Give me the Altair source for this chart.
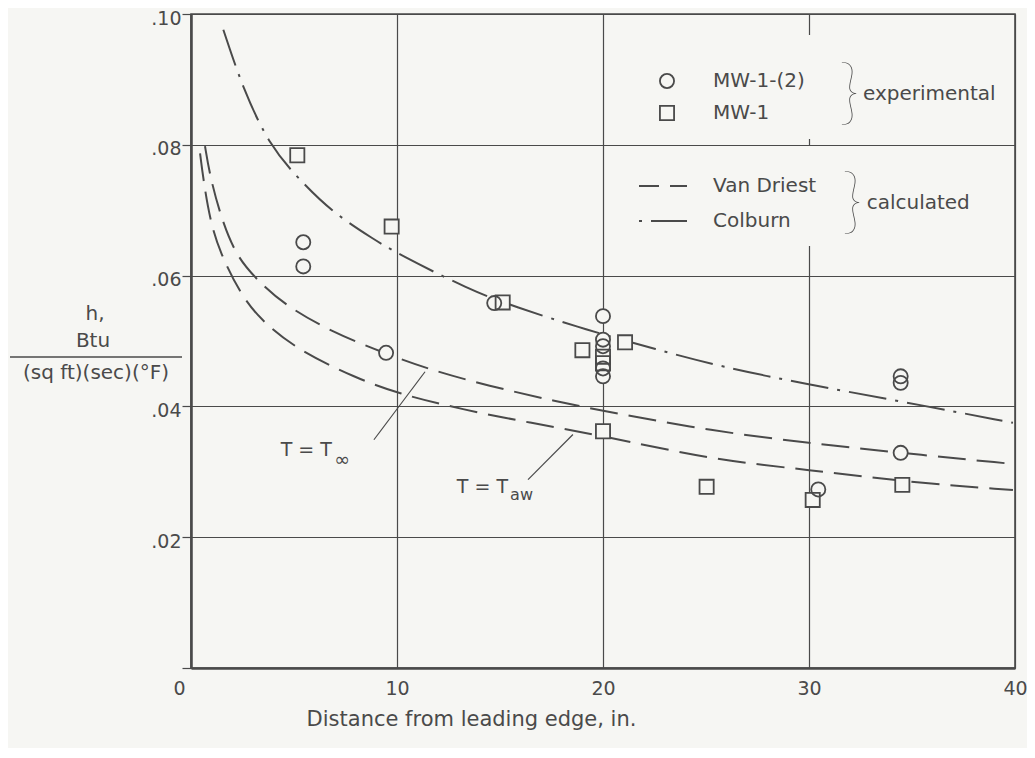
import altair as alt
import pandas as pd

BG = "#f6f6f3"
INK = "#4a4a4a"
FONT = "DejaVu Sans"

mw12_x = [5.45, 5.45, 9.47, 14.72, 20.0, 20.0, 20.0, 20.0, 20.0, 30.45, 34.45, 34.45, 34.45]
mw12_y = [0.0651, 0.0614, 0.0482, 0.0558, 0.0538, 0.0502, 0.0492, 0.0458, 0.0446, 0.0273, 0.0446, 0.0436, 0.0329]
mw1_x = [5.16, 9.74, 15.13, 19.0, 21.07, 20.0, 20.0, 20.0, 25.03, 30.18, 34.53]
mw1_y = [0.0784, 0.0675, 0.0559, 0.0486, 0.0498, 0.0476, 0.0466, 0.0362, 0.0277, 0.0257, 0.0280]

# ---- calculated curves ----
colburn_x = [1.57, 2.54, 3.83, 5.2, 6.8, 8.9, 10.0, 13.54, 15.65, 19.2, 22.6, 25.68, 30.05, 34.4, 39.9]
colburn_y = [0.0976, 0.0884, 0.0798, 0.0749, 0.0698, 0.0655, 0.0634, 0.0578, 0.0553, 0.0517, 0.0487, 0.0461, 0.0433, 0.0408, 0.0375]
vd_inf_x = [0.68, 0.92, 1.49, 2.22, 3.19, 4.5, 6.75, 9.34, 11.6, 14.5, 17.4, 20.0, 25.35, 30.05, 34.4, 39.9]
vd_inf_y = [0.0798, 0.0752, 0.0685, 0.0629, 0.0594, 0.0556, 0.0515, 0.0482, 0.0456, 0.0431, 0.0410, 0.0393, 0.0362, 0.0344, 0.0329, 0.0312]
vd_aw_x = [0.44, 0.6, 0.92, 1.41, 2.38, 3.35, 5.13, 8.04, 10.0, 13.2, 16.45, 19.7, 25.35, 30.05, 34.5, 39.9]
vd_aw_y = [0.0787, 0.0747, 0.0685, 0.0635, 0.0573, 0.0533, 0.0487, 0.0443, 0.0420, 0.0395, 0.0375, 0.0357, 0.0318, 0.0303, 0.0285, 0.0272]

series_names = ["MW-1-(2)", "MW-1"]
method_names = ["Van Driest", "Colburn"]

# ---- annotations ----
ann_main = ["T = T", "T = T"]
ann_main_x = [6.84, 15.39]
ann_main_y = [0.0334, 0.02765]
ann_sub = ["\u221e", "aw"]
ann_sub_x = [6.95, 15.49]
ann_sub_y = [0.0318, 0.0264]
lead_x1 = [8.88, 16.36]
lead_y1 = [0.0349, 0.0288]
lead_x2 = [11.36, 18.54]
lead_y2 = [0.0453, 0.0357]
group_text = ["experimental", "calculated"]
group_x = [32.62, 32.8]
group_y = [0.0877, 0.0711]
brace_x = [31.95, 32.1]

points = pd.DataFrame({
    "x": mw1_x + mw12_x,
    "y": mw1_y + mw12_y,
    "series": [series_names[1]] * len(mw1_x) + [series_names[0]] * len(mw12_x),
})
curves = pd.DataFrame({
    "x": colburn_x + vd_inf_x + vd_aw_x,
    "y": colburn_y + vd_inf_y + vd_aw_y,
    "method": [method_names[1]] * len(colburn_x) + [method_names[0]] * (len(vd_inf_x) + len(vd_aw_x)),
    "curve": ["colburn"] * len(colburn_x) + ["inf"] * len(vd_inf_x) + ["aw"] * len(vd_aw_x),
})
ann_df = pd.DataFrame({"t": ann_main, "x": ann_main_x, "y": ann_main_y})
sub_df = pd.DataFrame({"t": ann_sub, "x": ann_sub_x, "y": ann_sub_y, "fs": [19, 16]})
lead_df = pd.DataFrame({"x": lead_x1, "y": lead_y1, "x2": lead_x2, "y2": lead_y2})
grp_df = pd.DataFrame({"t": group_text, "x": group_x, "y": group_y, "bx": brace_x})

xs = alt.Scale(domain=[0, 40], nice=False, zero=False)
ys = alt.Scale(domain=[0, 0.1], nice=False, zero=False)

x_axis = alt.Axis(
    values=[0, 10, 20, 30, 40], grid=True, gridColor=INK, gridWidth=1.2, gridOpacity=1,
    ticks=False, tickSize=0, domainColor=INK, domainWidth=2.5,
    labelFont=FONT, labelFontSize=19, labelColor=INK, labelPadding=11, labelFlush=False,
    labelAlign={"condition": {"test": "datum.value === 0", "value": "right"}, "value": "center"},
    labelOffset={"condition": {"test": "datum.value === 0", "value": -6}, "value": 0},
    title="Distance from leading edge, in.", titleFont=FONT, titleFontSize=21,
    titleFontWeight="normal", titleColor=INK, titleX=280, titleY=57,
    titleBaseline="alphabetic", titleAlign="center",
)
y_axis = alt.Axis(
    values=[0, 0.02, 0.04, 0.06, 0.08, 0.1], grid=True, gridColor=INK, gridWidth=1.2, gridOpacity=1,
    ticks=True, tickSize=9, tickColor=INK, tickWidth=1.2, domainColor=INK, domainWidth=2.5,
    labelFont=FONT, labelFontSize=19, labelColor=INK, labelPadding=1, labelOffset=4,
    labelExpr="datum.value == 0 ? '' : replace(format(datum.value, '.2f'), '0.', '.')",
    title=None,
)

X = alt.X("x:Q", scale=xs, axis=x_axis)
Y = alt.Y("y:Q", scale=ys, axis=y_axis)

lines = alt.Chart(curves).mark_line(color=INK, strokeWidth=2, interpolate="basis").encode(
    x=X, y=Y, detail="curve:N",
    strokeDash=alt.StrokeDash(
        "method:N",
        scale=alt.Scale(domain=method_names, range=[[28, 11], [38, 9, 3, 9]]),
        legend=alt.Legend(
            orient="none", legendX=432, legendY=132, symbolType="stroke", symbolSize=2304,
            symbolStrokeWidth=2, symbolStrokeColor=INK, symbolDashOffset=47,
            labelOffset=25, padding=15, rowPadding=-1, title=None, fillColor=BG,
            labelFont=FONT, labelFontSize=20, labelColor=INK,
        ),
    ),
)

leaders = alt.Chart(lead_df).mark_rule(color=INK, strokeWidth=1.2).encode(
    x=alt.X("x:Q", scale=xs), y=alt.Y("y:Q", scale=ys), x2="x2:Q", y2="y2:Q"
)
ann_txt = alt.Chart(ann_df).mark_text(
    font=FONT, fontSize=19, color=INK, align="right", baseline="middle"
).encode(x=alt.X("x:Q", scale=xs), y=alt.Y("y:Q", scale=ys), text="t:N")
sub_txt = alt.Chart(sub_df).mark_text(
    font=FONT, color=INK, align="left", baseline="middle"
).encode(x=alt.X("x:Q", scale=xs), y=alt.Y("y:Q", scale=ys), text="t:N",
         size=alt.Size("fs:Q", scale=None, legend=None))

# background-filled discs/squares so the curves do not show through the symbols
bg_circ = alt.Chart(points).transform_filter(
    alt.datum.series == series_names[0]
).mark_point(shape="circle", filled=True, color=BG, size=200, opacity=1).encode(
    x=alt.X("x:Q", scale=xs), y=alt.Y("y:Q", scale=ys))
bg_sq = alt.Chart(points).transform_filter(
    alt.datum.series == series_names[1]
).mark_point(shape="square", filled=True, color=BG, size=200, opacity=1).encode(
    x=alt.X("x:Q", scale=xs), y=alt.Y("y:Q", scale=ys))

pts = alt.Chart(points).mark_point(
    filled=False, color=INK, strokeWidth=1.8, size=200, opacity=1
).encode(
    x=X, y=Y,
    shape=alt.Shape(
        "series:N",
        scale=alt.Scale(domain=series_names, range=["circle", "square"]),
        legend=alt.Legend(
            orient="none", legendX=451, legendY=21, symbolSize=200, symbolStrokeWidth=1.8,
            symbolStrokeColor=INK, labelOffset=36, padding=15,
            rowPadding=10, title=" ", titleOrient="top", titleFontSize=12, titlePadding=9,
            fillColor=BG, labelFont=FONT, labelFontSize=20, labelColor=INK,
        ),
    ),
)

grp_txt = alt.Chart(grp_df).mark_text(
    font=FONT, fontSize=20, color=INK, align="left", baseline="middle"
).encode(x=alt.X("x:Q", scale=xs), y=alt.Y("y:Q", scale=ys), text="t:N")
braces = alt.Chart(grp_df).mark_text(
    font="Lato", fontSize=72, fontWeight=100, color=INK, align="center", baseline="middle", text="}"
).encode(x=alt.X("bx:Q", scale=xs), y=alt.Y("y:Q", scale=ys))

# y-axis title as a stacked fraction
ytitle_df = pd.DataFrame({"t": ["h,", "Btu", "(sq ft)(sec)(\u00b0F)"], "px": [-96, -98, -95], "py": [300, 327, 359]})
ytitle = alt.Chart(ytitle_df).mark_text(
    font=FONT, fontSize=20, color=INK, align="center", baseline="middle"
).encode(x=alt.X("px:Q", scale=None), y=alt.Y("py:Q", scale=None), text="t:N")
frac_df = pd.DataFrame({"a": [-181], "b": [-9], "c": [343]})
frac = alt.Chart(frac_df).mark_rule(color=INK, strokeWidth=1.6).encode(
    x=alt.X("a:Q", scale=None), x2="b:Q", y=alt.Y("c:Q", scale=None)
)

chart = alt.layer(lines, leaders, ann_txt, sub_txt, bg_sq, bg_circ, pts, grp_txt, braces, ytitle, frac).properties(
    width=824, height=654,
    padding={"left": 183, "top": 6, "right": 12, "bottom": 80},
    autosize=alt.AutoSizeParams(type="none"),
    background=BG,
).configure_view(stroke=INK, strokeWidth=1.6).configure_axis(labelOverlap=False)

chart.save("out.html", embed_options={"renderer": "svg", "actions": False})
